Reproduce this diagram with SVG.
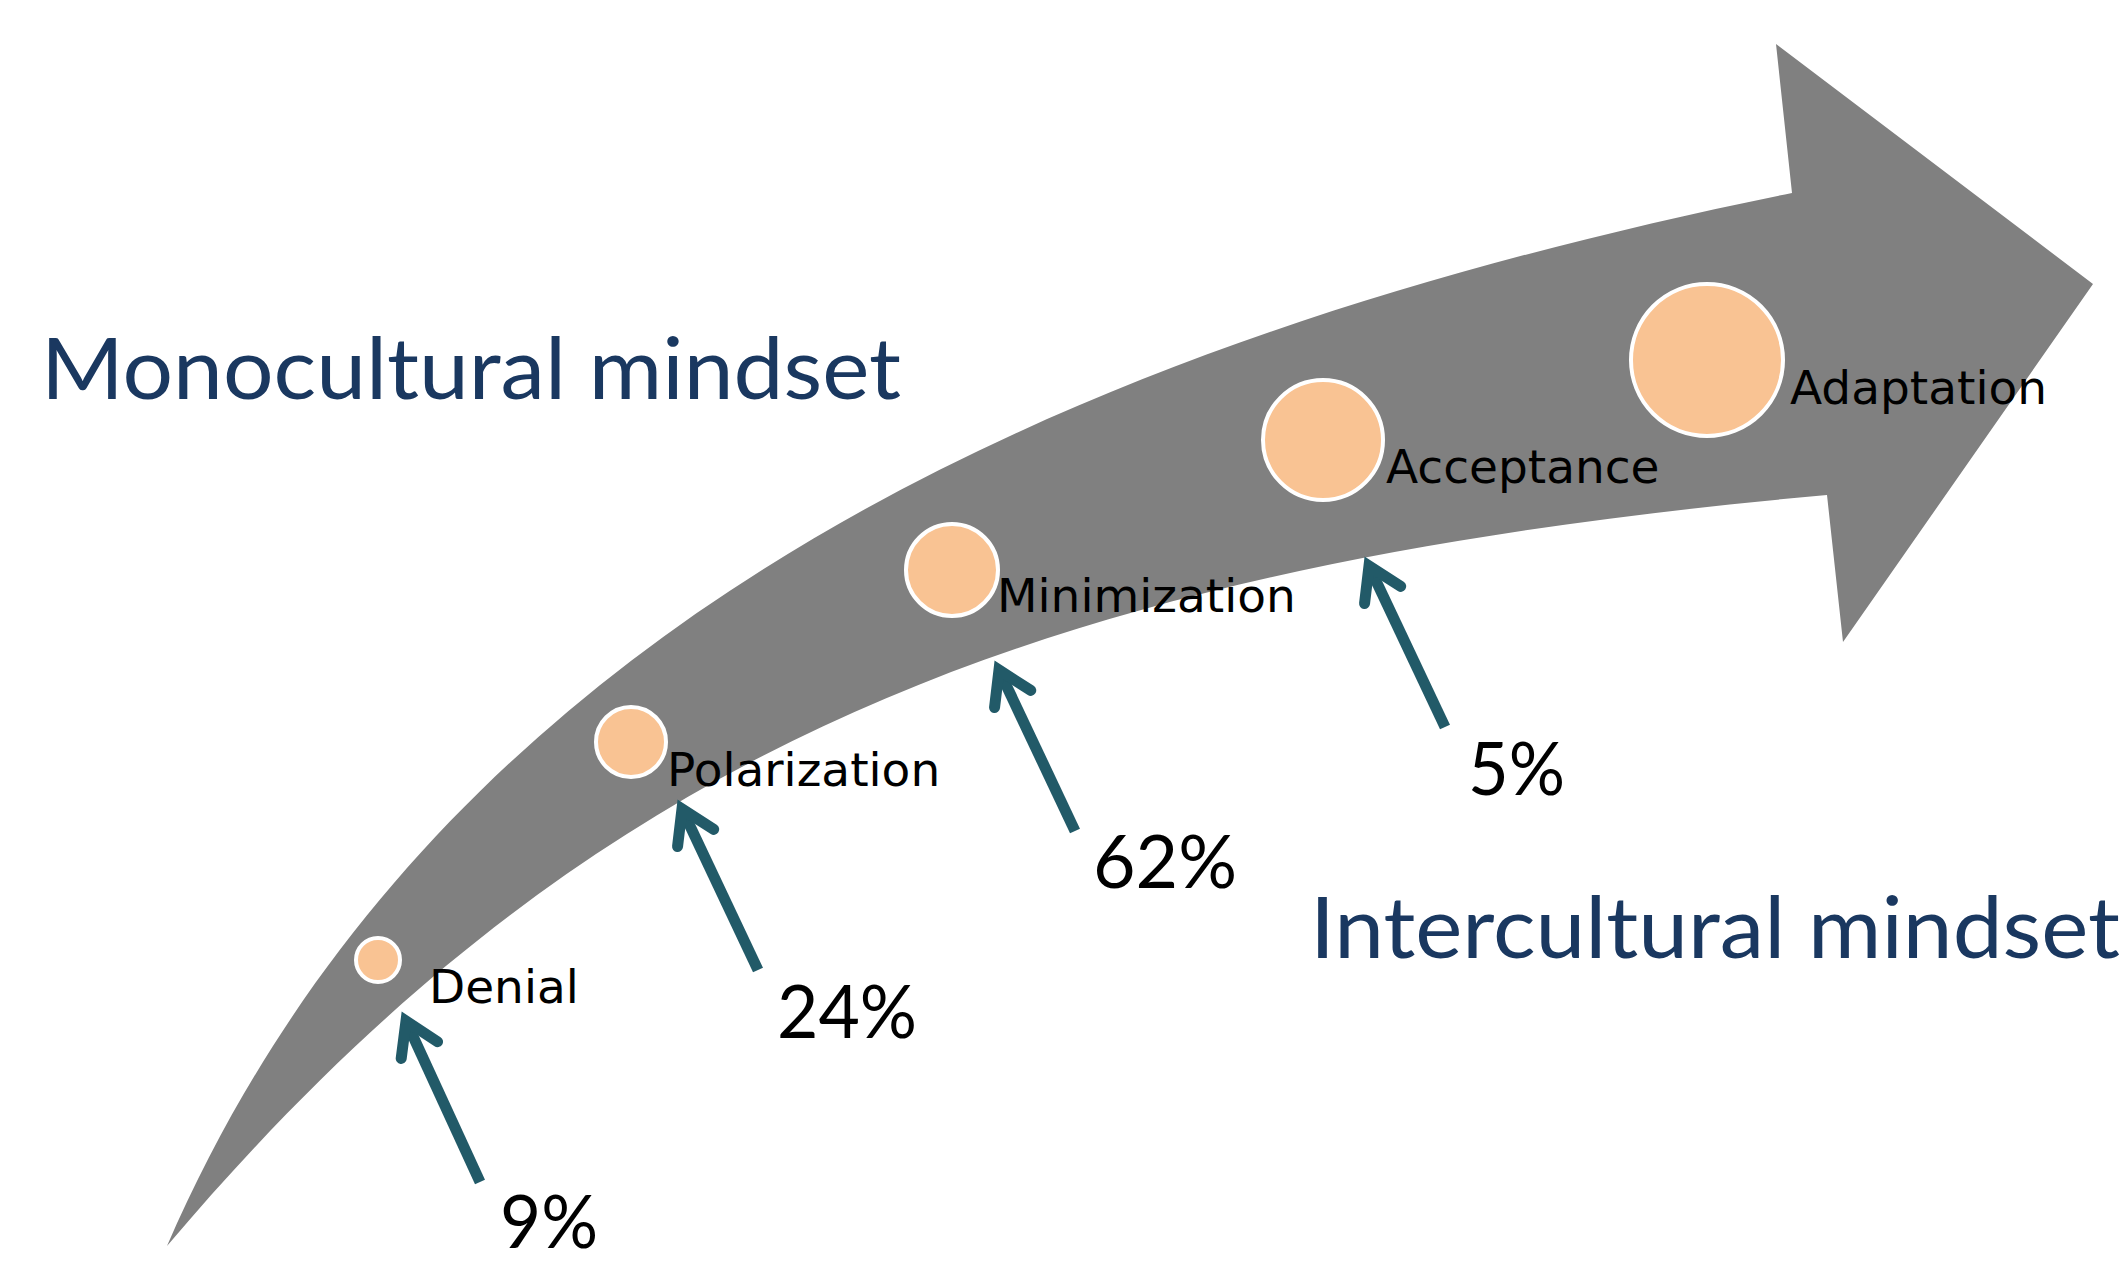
<svg xmlns="http://www.w3.org/2000/svg" width="2124" height="1263" viewBox="0 0 2124 1263">
  <style>
    .band { fill: #808080; }
    .stage { fill: #F9C393; stroke: #FFFFFF; stroke-width: 4; }
    .stage-label { font-family: "DejaVu Sans", Verdana, sans-serif; font-size: 47px; fill: #000000; }
    .pct { font-family: Lato, "Open Sans", sans-serif; font-size: 74px; fill: #000000; }
    .mindset { font-family: Lato, "Open Sans", sans-serif; font-size: 86px; fill: #1A3860; }
    .pointer { stroke: #225A68; stroke-width: 11; fill: none; stroke-linecap: butt; marker-end: url(#chevron); }
  </style>
  <defs>
    <marker id="chevron" markerUnits="userSpaceOnUse" orient="auto" refX="0" refY="0" markerWidth="80" markerHeight="80" overflow="visible">
      <path d="M-32,-20 L0,0 L-32,20" fill="none" stroke="#225A68" stroke-width="11" stroke-linecap="round" stroke-linejoin="miter"/>
    </marker>
  </defs>

  <!-- curved progress arrow -->
  <path id="progress-arrow" class="band" d="M167,1246 C445,604 1106,332 1792,193 L1776,44 L2093,284 L1843,642 L1827,495 C1030,567 587,750 167,1246 Z"/>

  <!-- mindset captions -->
  <text id="monocultural" class="mindset" x="41" y="399" textLength="860" lengthAdjust="spacingAndGlyphs">Monocultural mindset</text>
  <text id="intercultural" class="mindset" x="1310" y="958" textLength="810" lengthAdjust="spacingAndGlyphs">Intercultural mindset</text>

  <!-- stages -->
  <g id="denial">
    <circle class="stage" cx="378" cy="960" r="22"/>
    <text class="stage-label" x="429" y="1003">Denial</text>
  </g>
  <g id="polarization">
    <circle class="stage" cx="631" cy="742" r="35"/>
    <text class="stage-label" x="667" y="786">Polarization</text>
  </g>
  <g id="minimization">
    <circle class="stage" cx="952" cy="570" r="46"/>
    <text class="stage-label" x="997" y="612">Minimization</text>
  </g>
  <g id="acceptance">
    <circle class="stage" cx="1323" cy="440" r="60"/>
    <text class="stage-label" x="1386" y="483">Acceptance</text>
  </g>
  <g id="adaptation">
    <circle class="stage" cx="1707" cy="360" r="76"/>
    <text class="stage-label" x="1790" y="404">Adaptation</text>
  </g>

  <!-- share of each stage -->
  <g id="share-denial"><text class="pct" x="500" y="1248" textLength="98" lengthAdjust="spacingAndGlyphs">9%</text></g>
  <g id="share-polarization"><text class="pct" x="777" y="1038" textLength="140" lengthAdjust="spacingAndGlyphs">24%</text></g>
  <g id="share-minimization"><text class="pct" x="1093" y="888" textLength="144" lengthAdjust="spacingAndGlyphs">62%</text></g>
  <g id="share-acceptance"><text class="pct" x="1468" y="795" textLength="97" lengthAdjust="spacingAndGlyphs">5%</text></g>

  <!-- pointers from shares to the band -->
  <g id="connectors">
    <line class="pointer" x1="480" y1="1182" x2="406" y2="1021"/>
    <line class="pointer" x1="758" y1="970" x2="682" y2="809"/>
    <line class="pointer" x1="1075" y1="831" x2="999" y2="670"/>
    <line class="pointer" x1="1445" y1="727" x2="1369" y2="566"/>
  </g>
</svg>
